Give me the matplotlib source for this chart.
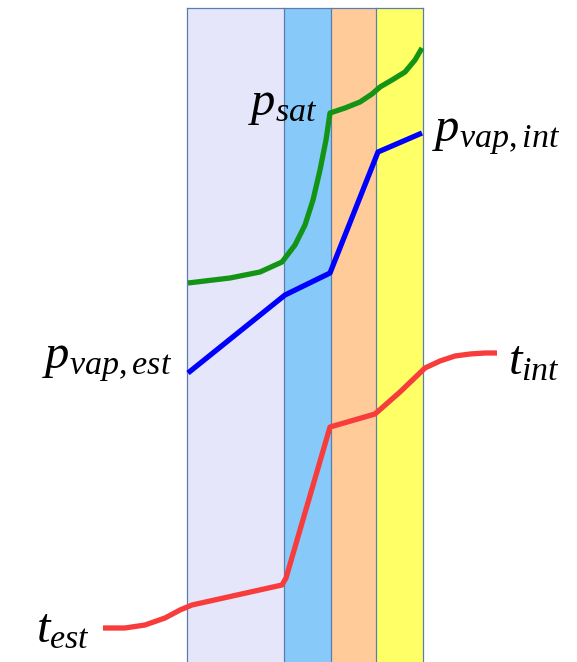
import matplotlib
matplotlib.use('Agg')
import numpy as np
import matplotlib.pyplot as plt

plt.rcParams['mathtext.fontset'] = 'custom'
plt.rcParams['mathtext.it'] = 'Liberation Serif:italic'
plt.rcParams['mathtext.rm'] = 'Liberation Serif'

# layer boundaries (horizontal position) and colours
edges = [187, 284, 331, 376, 423]
band_colors = ["#E6E6FA", "#87CAFA", "#FFCC99", "#FFFF66"]

# curves (x, height)
sat_x = [188, 230, 260, 282, 295, 305, 313, 320, 326, 330, 345, 360, 372, 380, 392, 405, 415, 422]
sat_y = [283, 278, 272, 262, 245, 225, 200, 170, 140, 113, 108, 102, 94, 87, 80, 72, 60, 48]
vap_x = [188, 285, 330, 378, 422]
vap_y = [373, 295, 273, 152, 133]
t_x = [103, 125, 145, 165, 180, 192, 282, 286, 330, 375, 400, 425, 440, 455, 470, 485, 497]
t_y = [628, 628, 625, 618, 610, 605, 585, 578, 427, 414, 392, 368, 361, 356, 354, 353, 353]

fig = plt.figure(figsize=(5.77, 6.62), dpi=100)
ax = fig.add_axes([0, 0, 1, 1])
ax.set_xlim(0, 577)
ax.set_ylim(662, 0)
ax.axis('off')

for i, c in enumerate(band_colors):
    ax.axvspan(edges[i], edges[i+1], ymin=0, ymax=1 - 8/662., color=c, lw=0)
for e in edges:
    ax.plot([e, e], [8, 662], color="#5A7DB0", lw=0.9)
ax.plot([edges[0], edges[-1]], [8, 8], color="#5A7DB0", lw=0.9)

ax.plot(sat_x, sat_y, color="#149414", lw=3.8, solid_capstyle='butt', solid_joinstyle='round')
ax.plot(vap_x, vap_y, color="#0000FF", lw=3.8, solid_capstyle='butt', solid_joinstyle='round')
ax.plot(t_x, t_y, color="#F83C3C", lw=3.8, solid_capstyle='butt', solid_joinstyle='round')

fs = 35
ax.text(318, 103, r"$p_{sat}$", fontsize=fs, ha='right', va='center')
ax.text(432, 133, r"$p_{vap,int}$", fontsize=fs, ha='left', va='center')
ax.text(172, 360, r"$p_{vap,est}$", fontsize=fs, ha='right', va='center')
ax.text(508, 360, r"$t_{int}$", fontsize=fs, ha='left', va='center')
ax.text(90, 628, r"$t_{est}$", fontsize=fs, ha='right', va='center')

plt.savefig("out.png", dpi=100)
